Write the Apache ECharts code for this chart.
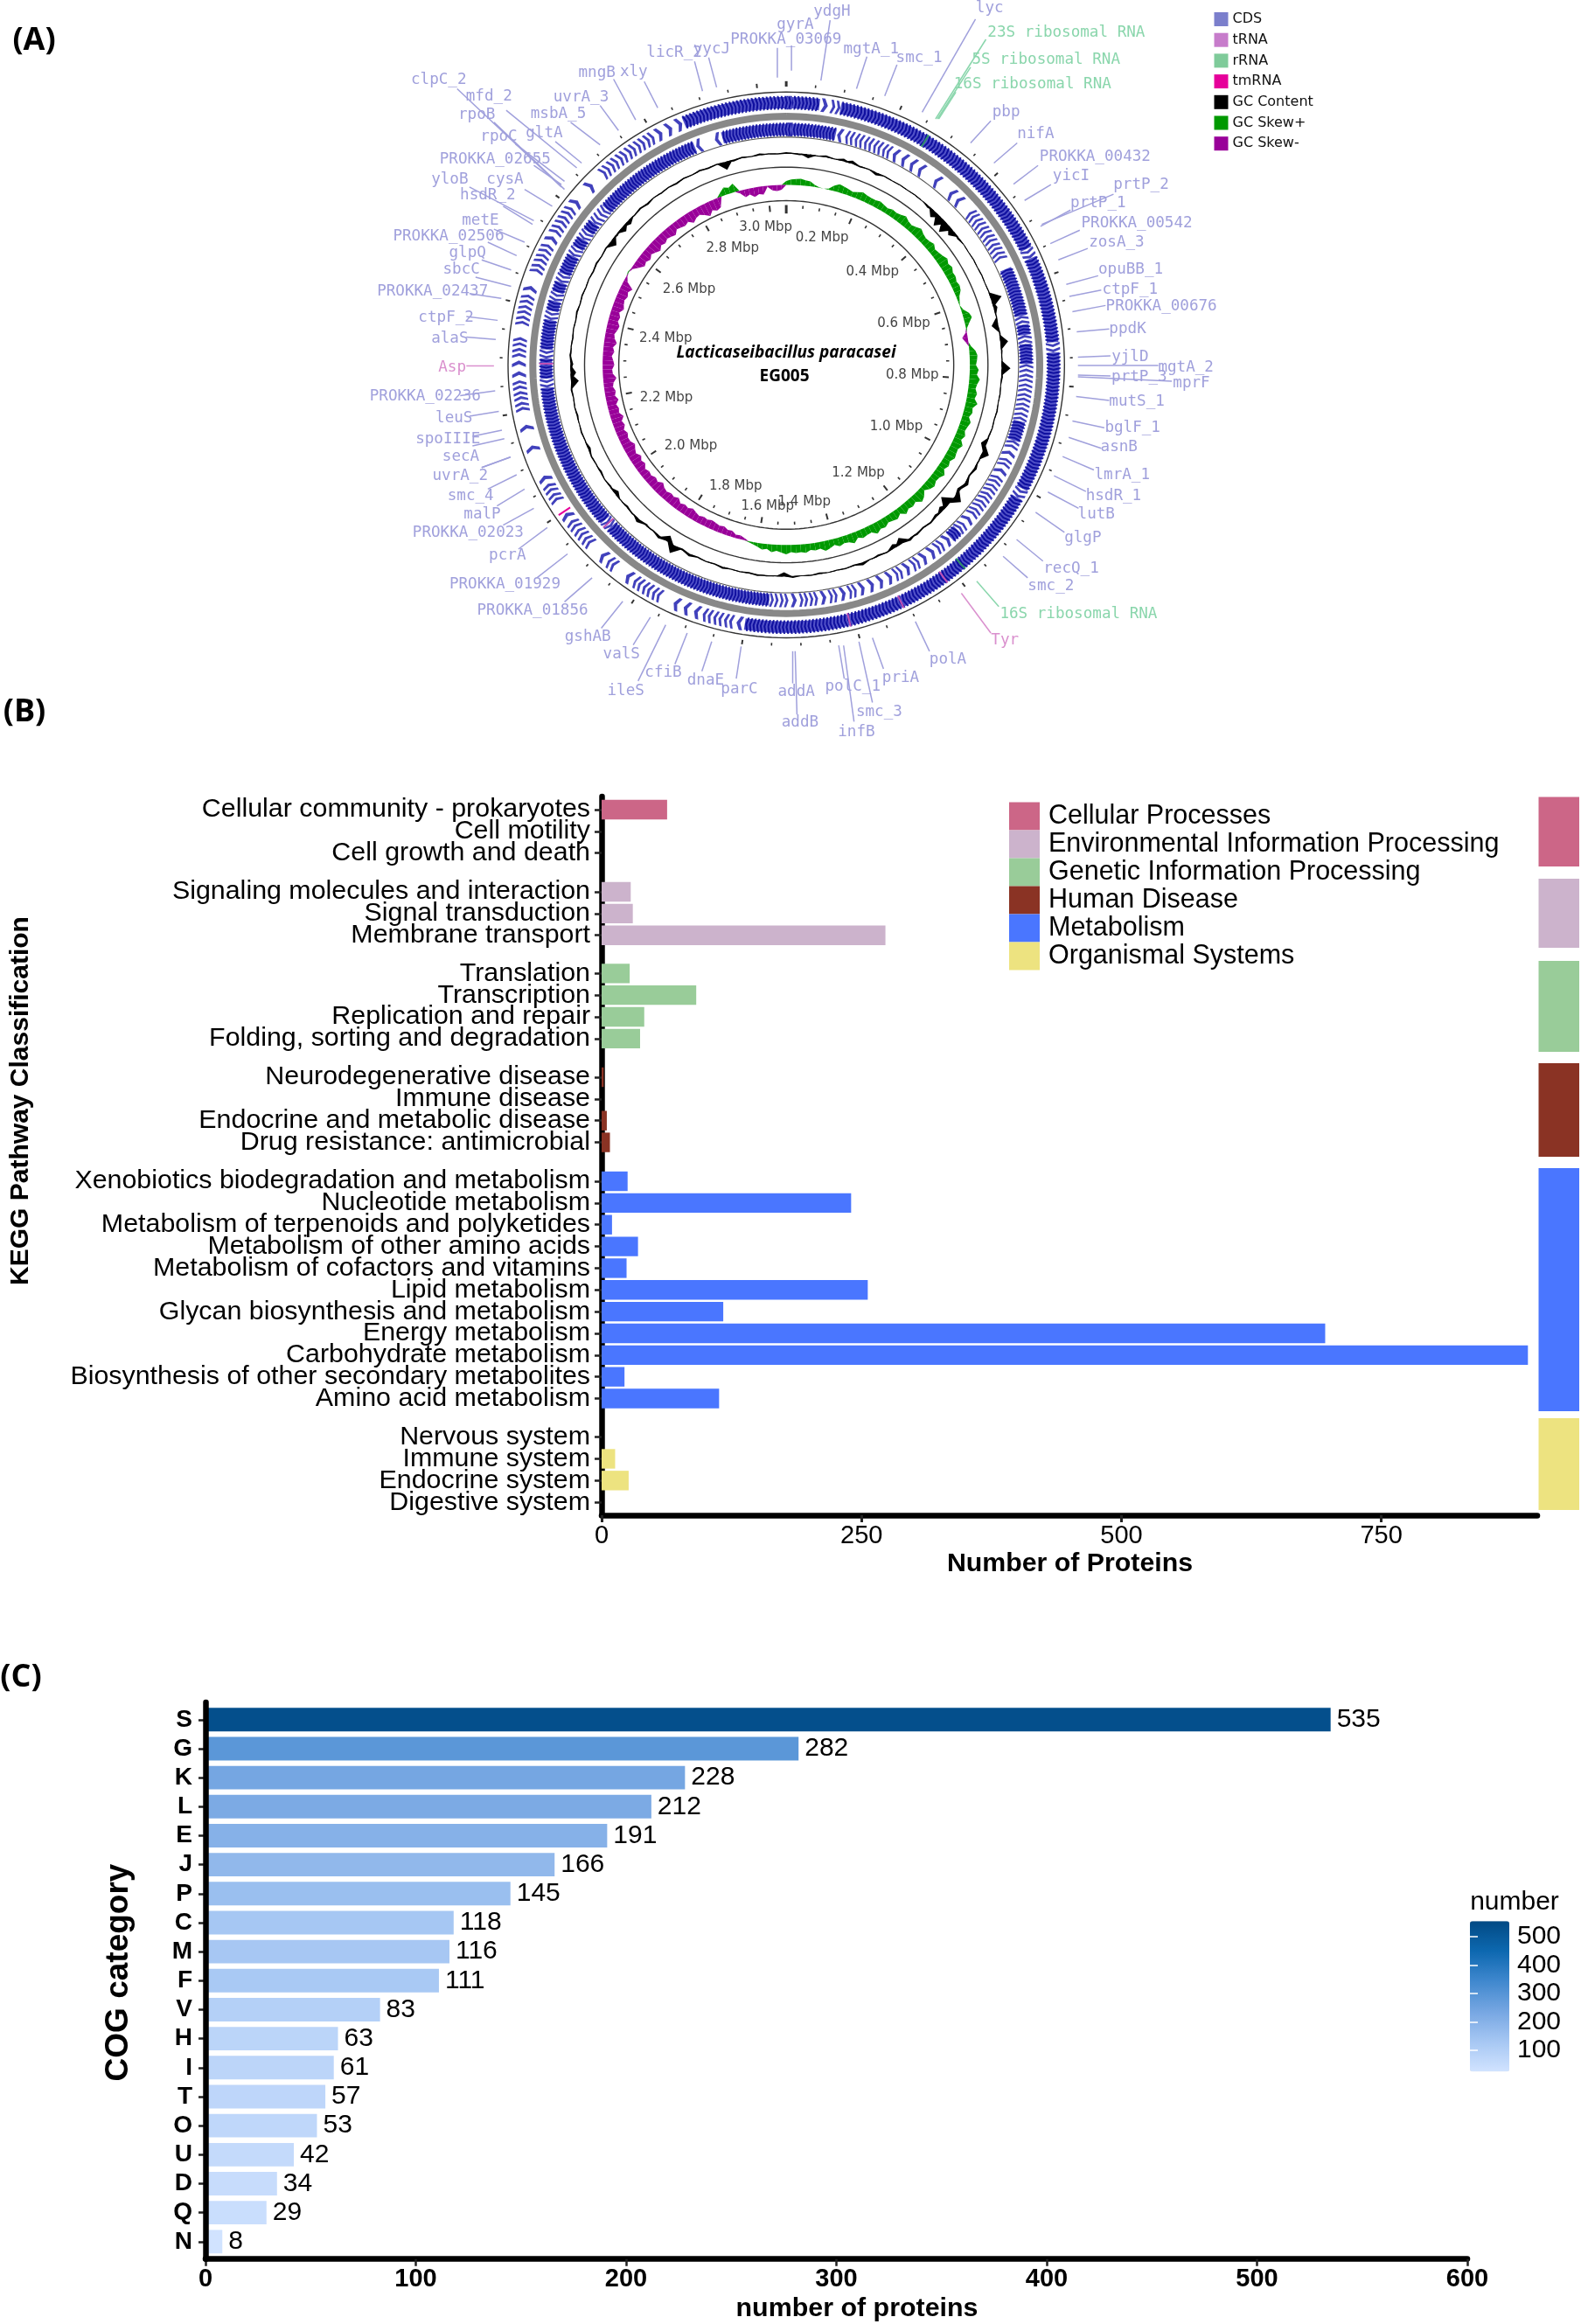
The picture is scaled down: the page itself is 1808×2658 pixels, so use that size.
<!DOCTYPE html>
<html><head><meta charset="utf-8">
<style>html,body{margin:0;padding:0;background:#fff}#c{width:1808px;height:2658px}</style>
<script src="https://cdn.jsdelivr.net/npm/echarts@6/dist/echarts.min.js"></script>
</head><body><div id="c"></div>
<script>
// ---------- Panel A data ----------
const genomeMbp = 3.05;
const mbpLabels = ['3.0 Mbp','0.2 Mbp','0.4 Mbp','0.6 Mbp','0.8 Mbp','1.0 Mbp','1.2 Mbp','1.4 Mbp','1.6 Mbp','1.8 Mbp','2.0 Mbp','2.2 Mbp','2.4 Mbp','2.6 Mbp','2.8 Mbp'];
const mbpLabelAt = [[678,475],[770,497],[852,568],[903,675],[917,783],[891,890],[829,987],[741,1046],[681,1055],[629,1014],[556,930],[516,830],[515,705],[553,604],[624,518]];
// genes on the outer annotation: name, label centre, leader end points (all read on the plot's own axes)
const cdsNames = ['ydgH','gyrA','PROKKA_03069','mgtA_1','smc_1','lyc','pbp','nifA','PROKKA_00432','yicI','prtP_2','prtP_1','PROKKA_00542','zosA_3','opuBB_1','ctpF_1','PROKKA_00676','ppdK','yjlD','mgtA_2','prtP_3','mprF','mutS_1','bglF_1','asnB','lmrA_1','hsdR_1','lutB','glgP','recQ_1','smc_2','polA','priA','polC_1','smc_3','infB','addA','addB','parC','dnaE','cfiB','ileS','valS','gshAB','PROKKA_01856','PROKKA_01929','pcrA','PROKKA_02023','malP','smc_4','uvrA_2','secA','spoIIIE','leuS','PROKKA_02236','alaS','ctpF_2','PROKKA_02437','sbcC','glpQ','PROKKA_02506','metE','hsdR_2','yloB','cysA','PROKKA_02655','rpoC','gltA','rpoB','mfd_2','clpC_2','msbA_5','uvrA_3','mngB','xly','licR_2','yycJ'];
const cdsLabelAt = [[786,24],[726,52],[711,83],[850,103],[928,122],[1043,18],[1070,234],[1118,280],[1215,328],[1176,367],[1290,385],[1220,423],[1283,465],[1250,505],[1273,562],[1272,605],[1323,638],[1268,687],[1272,745],[1363,766],[1287,787],[1372,800],[1283,837],[1276,893],[1254,932],[1259,991],[1245,1035],[1217,1072],[1195,1122],[1176,1185],[1143,1222],[975,1375],[898,1413],[820,1432],[863,1485],[826,1526],[728,1443],[734,1507],[635,1437],[580,1420],[511,1403],[450,1441],[443,1365],[388,1328],[298,1274],[253,1218],[257,1159],[193,1112],[216,1072],[197,1035],[180,993],[181,952],[160,916],[170,872],[123,827],[163,707],[157,662],[135,608],[182,563],[192,527],[161,493],[213,460],[225,407],[163,374],[253,374],[237,332],[243,285],[317,277],[207,240],[227,202],[145,167],[340,238],[377,203],[403,152],[463,150],[529,110],[590,103]];
const cdsLeaders = [[768,168,783,42],[720,147,720,95],[697,162,697,100],[826,185,843,118],[872,200,892,135],[933,234,1020,40],[1012,298,1045,252],[1050,340,1088,298],[1082,384,1122,345],[1100,418,1143,385],[1128,468,1245,405],[1126,472,1175,438],[1142,508,1190,480],[1155,542,1203,518],[1168,593,1220,575],[1173,618,1225,605],[1178,650,1232,637],[1185,692,1238,686],[1187,745,1240,742],[1187,762,1318,762],[1187,782,1240,784],[1187,786,1340,795],[1184,827,1238,835],[1178,878,1230,892],[1172,912,1225,935],[1162,952,1213,980],[1148,992,1200,1025],[1138,1026,1188,1060],[1118,1068,1165,1110],[1087,1125,1130,1170],[1065,1160,1105,1205],[922,1296,945,1358],[852,1330,870,1395],[797,1346,806,1415],[830,1338,852,1465],[805,1346,822,1505],[722,1358,722,1425],[726,1358,729,1490],[638,1348,630,1415],[590,1338,574,1400],[550,1320,530,1385],[515,1303,470,1420],[490,1287,462,1345],[445,1254,410,1310],[395,1205,350,1255],[355,1155,305,1205],[322,1100,275,1145],[300,1060,250,1095],[285,1020,240,1055],[272,990,225,1020],[262,953,215,975],[262,953,215,975],[248,897,200,910],[243,858,195,868],[237,815,180,825],[238,708,190,703],[241,668,190,660],[247,622,195,612],[263,597,205,578],[263,563,215,542],[272,533,225,505],[285,505,235,478],[298,468,250,430],[300,460,195,390],[330,430,285,395],[345,385,300,345],[350,378,270,300],[378,340,335,295],[350,395,235,255],[370,350,255,230],[345,390,175,185],[408,302,360,255],[438,272,408,220],[466,250,430,165],[502,225,480,170],[575,190,562,128],[598,182,585,120]];
const extraLeaders = [[252,915,200,930]];
const rrnaNames = ['23S ribosomal RNA','5S ribosomal RNA','16S ribosomal RNA','16S ribosomal RNA'];
const rrnaLabelAt = [[1168,68],[1135,124],[1113,176],[1188,1281]];
const rrnaLeaders = [[955,248,1037,82],[958,248,1012,140],[960,248,988,192],[1022,1212,1058,1265]];
const trnaNames = ['Tyr','Asp'];
const trnaLabelAt = [[1068,1335],[167,767]];
const trnaLeaders = [[997,1237,1045,1320],[235,763,190,763]];
// strand features: [position in Mbp, band 0 outer / 1 inner]
const trnaFeatures = [[1.22,0],[1.31,0],[1.41,0],[2.29,1],[1.93,1]];
const rrnaFeatures = [[0.265,0],[1.18,0]];
const tmrnaFeatures = [[2.0,0]];
// CDS occupancy per 0.02 Mbp window
const cdsOuter = [3,3,3,1,2,3,3,3,3,3, 3,3,3,3,3,3,3,3,3,3, 3,3,3,3,3,3,3,2,3,3, 3,3,3,3,3,3,2,3,3,3, 3,3,3,3,3,3,3,3,3,3, 2,3,3,3,3,3,3,3,3,3, 3,3,3,3,3,3,3,3,3,3, 3,3,3,3,3,3,3,3,3,3, 1,2,2,2,1,1,1,0,2,2, 2,1,0,2,1,0,2,2,2,1, 0,2,2,1,0,0,1,0,1,0, 2,2,2,1,1,2,2,0,2,2, 2,1,0,2,2,2,1,2,2,2, 1,0,1,0,2,2,2,2,2,2, 1,1,1,3,3,3,3,3,3,3, 3,3,3];
const cdsInner = [3,3,3,3,3,1,2,2,2,2, 2,1,1,1,1,0,1,0,1,1, 0,2,2,2,2,2,2,0,3,3, 3,3,3,2,3,2,3,3,2,2, 2,2,2,2,3,3,2,1,2,1, 2,2,2,2,2,1,2,3,1,2, 1,1,2,1,2,1,1,1,1,2, 1,2,1,2,2,1,2,2,3,3, 3,3,3,3,3,3,3,3,3,3, 3,3,3,3,3,3,2,3,3,3, 3,3,3,3,3,3,3,3,3,3, 3,3,2,3,3,2,3,3,3,2, 3,2,3,2,3,3,2,3,2,3, 2,2,3,3,3,3,3,3,3,3, 3,3,3,1,0,1,3,3,3,3, 3,3,3];
// GC content deviation per 0.02 Mbp window (thousandths of the plot radius)
const gcContent = [2,-4,-12,-2,5,-1,8,10,-3,2, -8,2,-1,2,-1,2,-1,-6,-24,-38, -40,-22,-5,1,-1,2,-1,2,-1,2, 38,12,2,-22,3,26,3,2,30,4, -1,2,-1,3,-2,2,-3,-18,24,3, 8,-4,12,-10,28,-36,-16,-8,4,-4, 5,8,-22,-14,3,-5,-2,8,-3,2, -2,1,-4,2,-1,5,-14,-2,2,4, -3,2,-1,5,-3,2,-3,8,-5,30, -22,8,-3,-5,12,3,-5,-2,-14,-4, 2,-5,-2,3,-8,-2,3,-1,-4,2, -2,4,-26,-18,-8,4,2,-3,2,-2, 4,-2,3,-2,2,-3,4,-2,3,-22, -5,-18,-14,-3,4,-5,2,-3,2,-4, 3,-2,4,-3,2,-28,-5,3,-2,5, 2,-2,4];
// GC skew per 0.0125 Mbp window (thousandths of the plot radius; + outward, - inward)
const gcSkew = [
14,20,22,24,20,18,8,2,0,4,20,30,26,22,18,24,30,26,24,24,28,24,20,26,24,28,34,26,22,28,36,28,24,26,32,22,26,30,38,30,
36,28,30,24,28,24,12,6,1,8,24,30,16,4,-5,-20,-10,8,22,28,26,22,32,26,38,30,26,34,28,42,28,32,24,36,30,26,34,26,40,30,
32,36,26,32,24,38,28,26,34,28,16,32,40,24,30,26,36,22,32,28,24,34,30,40,26,28,32,24,38,28,26,32,22,30,36,24,28,24,32,28,
30,26,34,28,22,28,18,22,14,8,3,-8,-14,-12,-22,-20,-28,-24,-28,-32,-26,-30,-24,-30,-36,-28,-32,-26,-38,-30,-34,-28,-32,-42,-30,-36,-28,-32,-26,-38,
-32,-42,-30,-36,-44,-34,-32,-38,-30,-40,-34,-46,-34,-38,-32,-44,-34,-40,-32,-36,-48,-36,-34,-42,-38,-32,-40,-34,-46,-36,-32,-40,-44,-34,-38,-30,-42,-36,-32,-38,
-32,-42,-14,-4,4,-6,-22,-36,-30,-38,-28,-36,-44,-32,-38,-30,-34,-40,-26,-30,-34,-28,-42,-32,-28,-38,-50,-34,-42,-36,14,28,22,32,-10,-28,-22,-34,-26,-30,
-4,-18,-22,-18];

// ---------- Panel B data ----------
const groupNames = ['Cellular Processes','Environmental Information Processing','Genetic Information Processing','Human Disease','Metabolism','Organismal Systems'];
const groupColors = ['#CC6687','#CCB3CC','#99CC99','#8A3324','#4A76FF','#EDE380'];
const cellularNames = ['Cellular community - prokaryotes','Cell motility','Cell growth and death'];
const cellularValues = [63,0,0];
const environmentalNames = ['Signaling molecules and interaction','Signal transduction','Membrane transport'];
const environmentalValues = [28,30,273];
const geneticNames = ['Translation','Transcription','Replication and repair','Folding, sorting and degradation'];
const geneticValues = [27,91,41,37];
const diseaseNames = ['Neurodegenerative disease','Immune disease','Endocrine and metabolic disease','Drug resistance: antimicrobial'];
const diseaseValues = [2,0,5,8];
const metabolismNames = ['Xenobiotics biodegradation and metabolism','Nucleotide metabolism','Metabolism of terpenoids and polyketides','Metabolism of other amino acids','Metabolism of cofactors and vitamins','Lipid metabolism','Glycan biosynthesis and metabolism','Energy metabolism','Carbohydrate metabolism','Biosynthesis of other secondary metabolites','Amino acid metabolism'];
const metabolismValues = [25,240,10,35,24,256,117,696,891,22,113];
const organismalNames = ['Nervous system','Immune system','Endocrine system','Digestive system'];
const organismalValues = [0,13,26,0];
const keggTicks = [0,250,500,750];

// ---------- Panel C data ----------
const cogCategories = ['S','G','K','L','E','J','P','C','M','F','V','H','I','T','O','U','D','Q','N'];
const cogValues = [535,282,228,212,191,166,145,118,116,111,83,63,61,57,53,42,34,29,8];
const colorbarTicks = [100,200,300,400,500];

// ---------- layout ----------
const SANS = '"Liberation Sans", Arial, sans-serif';
const CX=711.5, CY=761, RX=453.5, RY=569;
const A_GRID = {left:400, top:0, width:1100, height:860};
const facetTop = [913.6,1007.6,1100.9,1219.6,1338.6,1631.2];
const rowH = 24.85;
const stripBoxes = [[911.5,991],[1005,1084],[1099,1203],[1216,1323],[1336,1614],[1622,1727]];

function pos(api,r,mbp){const t=mbp/genomeMbp*2*Math.PI;return api.coord([CX+RX*r*Math.sin(t),CY-RY*r*Math.cos(t)]);}

const grids=[],xAxes=[],yAxes=[],series=[];
function addGrid(g,x,y){g.outerBoundsMode='none';grids.push(g);x.gridIndex=grids.length-1;y.gridIndex=grids.length-1;xAxes.push(x);yAxes.push(y);return grids.length-1;}

// Panel A
const AI = addGrid(A_GRID,{type:'value',min:0,max:1568,show:false},{type:'value',min:0,max:1568,inverse:true,show:false});
function customA(name,color,data,renderItem,z){
  series.push({name,type:'custom',coordinateSystem:'cartesian2d',xAxisIndex:AI,yAxisIndex:AI,silent:true,animation:false,itemStyle:{color},data,renderItem,z:z||2,encode:{x:0,y:0}});
}
// reference circles + grey ring
const ringRadii=[[1,1.4,'#333'],[0.835,1.1,'#555'],[0.725,1.4,'#333'],[0.602,1.4,'#333'],[0.911,8,'#888']];
customA('rings','#333',ringRadii.map((r,i)=>[i]),(p,api)=>{
  const [r,w,c]=ringRadii[api.value(0)];const pts=[];
  for(let k=0;k<=240;k++)pts.push(pos(api,r,genomeMbp*k/240));
  return {type:'polyline',shape:{points:pts},style:{stroke:c,lineWidth:w,fill:null}};
},1);
// tick rings
const tickCount=Math.round(genomeMbp/0.05);
customA('ticks','#333',Array.from({length:tickCount},(_,i)=>[i]),(p,api)=>{
  const i=api.value(0),m=i*0.05,major=i%4===0,top=i===0;
  const seg=(a,b,w)=>({type:'line',shape:{x1:pos(api,a,m)[0],y1:pos(api,a,m)[1],x2:pos(api,b,m)[0],y2:pos(api,b,m)[1]},style:{stroke:'#333',lineWidth:w}});
  return {type:'group',children:[
    seg(1.02,major?(top?1.04:1.036):1.03,top?3:(major?2:1.6)),
    seg(0.586,major?(top?0.555:0.564):0.575,top?3:(major?2:1.6))]};
},1);
// CDS arrows
const CDS_BANDS=[[0.936,0.986,1],[0.838,0.888,-1]];
const cdsData=cdsOuter.map((d,i)=>[i,d,0]).concat(cdsInner.map((d,i)=>[i,d,1]));
customA('CDS','#7B7FCC',cdsData,(p,api)=>{
  const i=api.value(0),d=api.value(1),band=CDS_BANDS[api.value(2)];
  if(!d)return {type:'group',children:[]};
  const bin=0.02,w=d===1?0.013:(d===2?0.0095:bin/3),r1=band[0],r2=band[1],rm=(r1+r2)/2,dir=band[2],kids=[];
  if(d===3){
    const a=i*bin-0.0006,b=(i+1)*bin+0.0006,c=(a+b)/2;
    kids.push({type:'polygon',shape:{points:[pos(api,r1+0.004,a),pos(api,r1+0.004,c),pos(api,r1+0.004,b),pos(api,r2-0.004,b),pos(api,r2-0.004,c),pos(api,r2-0.004,a)]},style:{fill:'#5252C8'}});
  }
  const span=d*w,start=i*bin+(bin-span)/2;
  for(let k=0;k<d;k++){
    const a0=start+k*w,a1=a0+w*0.96;
    const tail=dir>0?a0:a1,tip=dir>0?a1:a0,neck=tip-dir*w*0.5,notch=tail+dir*w*0.42;
    kids.push({type:'polygon',shape:{points:[pos(api,r1,tail),pos(api,r1,neck),pos(api,rm,tip),pos(api,r2,neck),pos(api,r2,tail),pos(api,rm,notch)]},
      style:{fill:d===3?'#08089A':'#2020B0',opacity:d===3?0.9:0.85}});
  }
  return {type:'group',children:kids};
},3);
// strand features
function featureRender(arr,color){return (p,api)=>{
  const f=arr[api.value(0)],b=CDS_BANDS[f[1]];
  const a=pos(api,b[0],f[0]),c=pos(api,b[1],f[0]);
  return {type:'line',shape:{x1:a[0],y1:a[1],x2:c[0],y2:c[1]},style:{stroke:color,lineWidth:2}};
};}
customA('tRNA','#C77CCB',trnaFeatures.map((_,i)=>[i]),featureRender(trnaFeatures,'#C050B4'),4);
customA('rRNA','#7FCB9A',rrnaFeatures.map((_,i)=>[i]),featureRender(rrnaFeatures,'#2F8F6A'),4);
customA('tmRNA','#E6009A',tmrnaFeatures.map((_,i)=>[i]),featureRender(tmrnaFeatures,'#E6009A'),4);
// GC content: thin base line with a peak per window; wide peaks run together into blobs
const GC_BASE=0.775,gcStep=0.02;
customA('GC Content','#000000',gcContent.map((_,i)=>[i]),(p,api)=>{
  const i=api.value(0),v=gcContent[i]/1000;
  const mc=(i+0.5)*gcStep,h=gcStep*0.85,m0=mc-h,m1=mc+h,t=0.0012;
  return {type:'polygon',shape:{points:[pos(api,GC_BASE+t,m0),pos(api,GC_BASE+Math.max(v,0)+t,mc),pos(api,GC_BASE+t,m1),pos(api,GC_BASE-t,m1),pos(api,GC_BASE+Math.min(v,0)-t,mc),pos(api,GC_BASE-t,m0)]},style:{fill:'#000'}};
},3);
// GC skew
const SK_BASE=0.66,skStep=genomeMbp/gcSkew.length;
function skewRender(sign,color){return (p,api)=>{
  const i=api.value(0),v0=Math.max(sign*gcSkew[i],0)/1000,v1=Math.max(sign*gcSkew[(i+1)%gcSkew.length],0)/1000;
  const m0=i*skStep,m1=(i+1)*skStep;
  return {type:'polygon',shape:{points:[pos(api,SK_BASE,m0),pos(api,SK_BASE+sign*v0,m0),pos(api,SK_BASE+sign*v1,m1),pos(api,SK_BASE,m1)]},style:{fill:color}};
};}
customA('GC Skew+','#009900',gcSkew.map((_,i)=>[i]),skewRender(1,'#009900'),3);
customA('GC Skew-','#990099',gcSkew.map((_,i)=>[i]),skewRender(-1,'#990099'),3);
// gene labels
function geneSeries(tag,names,at,leaders,color){
  customA(tag,color,names.map((_,i)=>[i]),(p,api)=>{
    const i=api.value(0),l=leaders[i],a=api.coord([l[0],l[1]]),b=api.coord([l[2],l[3]]),t=api.coord(at[i]);
    return {type:'group',children:[
      {type:'line',shape:{x1:a[0],y1:a[1],x2:b[0],y2:b[1]},style:{stroke:color,lineWidth:1.5}},
      {type:'text',style:{text:names[i],x:t[0],y:t[1],align:'center',verticalAlign:'middle',fill:color,font:'17.6px "DejaVu Sans Mono", monospace'}}]};
  },5);
}
geneSeries('cdsGenes',cdsNames,cdsLabelAt,cdsLeaders,'#A0A0DC');
geneSeries('rrnaGenes',rrnaNames,rrnaLabelAt,rrnaLeaders,'#8AD6AC');
geneSeries('trnaGenes',trnaNames,trnaLabelAt,trnaLeaders,'#DA90CE');
customA('extraLeader','#A0A0DC',extraLeaders.map((_,i)=>[i]),(p,api)=>{
  const l=extraLeaders[api.value(0)],a=api.coord([l[0],l[1]]),b=api.coord([l[2],l[3]]);
  return {type:'line',shape:{x1:a[0],y1:a[1],x2:b[0],y2:b[1]},style:{stroke:'#A0A0DC',lineWidth:1.5}};
},5);
customA('mbpLabels','#444',mbpLabels.map((_,i)=>[i]),(p,api)=>{
  const i=api.value(0),t=api.coord(mbpLabelAt[i]);
  return {type:'text',style:{text:mbpLabels[i],x:t[0],y:t[1],align:'center',verticalAlign:'middle',fill:'#444',font:'15px "DejaVu Sans", sans-serif'}};
},5);

// Panel B
const axisText={color:'#000',fontFamily:SANS};
const B_LEFT=688,B_WIDTH=1070;
addGrid({left:B_LEFT,top:911,width:B_WIDTH,height:822},
  {type:'value',min:0,max:900,splitLine:{show:false},
   axisLine:{show:true,lineStyle:{color:'#000',width:6.5}},
   axisLabel:{...axisText,fontSize:29,margin:9,customValues:keggTicks},
   axisTick:{show:true,length:8,lineStyle:{color:'#222',width:3},customValues:keggTicks}},
  {type:'value',min:0,max:1,show:true,splitLine:{show:false},axisLine:{show:true,lineStyle:{color:'#000',width:6.5}},axisTick:{show:false},axisLabel:{show:false}});
const facetNames=[cellularNames,environmentalNames,geneticNames,diseaseNames,metabolismNames,organismalNames];
const facetValues=[cellularValues,environmentalValues,geneticValues,diseaseValues,metabolismValues,organismalValues];
facetNames.forEach((names,f)=>{
  const gi=addGrid({left:B_LEFT,top:facetTop[f],width:B_WIDTH,height:names.length*rowH},
    {type:'value',min:0,max:900,show:false},
    {type:'category',inverse:true,data:names,axisLine:{show:false},axisTick:{show:true,length:8,alignWithLabel:true,lineStyle:{color:'#222',width:2.5}},
     axisLabel:{...axisText,fontSize:30.4,margin:13,interval:0}});
  series.push({name:groupNames[f],type:'bar',xAxisIndex:gi,yAxisIndex:gi,data:facetValues[f],barWidth:'90%',itemStyle:{color:groupColors[f]},z:1,animation:false,silent:true});
});

// Panel C
const C_LEFT=235,C_WIDTH=1443;
addGrid({left:C_LEFT,top:1947,width:C_WIDTH,height:636.7},
  {type:'value',min:0,max:600,interval:100,splitLine:{show:false},
   axisLine:{show:true,lineStyle:{color:'#000',width:6.5}},axisTick:{show:true,length:8,lineStyle:{color:'#222',width:2.5}},
   axisLabel:{...axisText,fontSize:29,fontWeight:'bold',margin:9}},
  {type:'value',min:0,max:1,splitLine:{show:false},axisLine:{show:true,lineStyle:{color:'#000',width:6.5}},axisTick:{show:false},axisLabel:{show:false},z:5});
const cogGrid=addGrid({left:C_LEFT,top:1950.2,width:C_WIDTH,height:630.2},
  {type:'value',min:0,max:600,show:false},
  {type:'category',inverse:true,data:cogCategories,axisLine:{show:false},axisTick:{show:true,length:8,alignWithLabel:true,lineStyle:{color:'#222',width:2.5}},
   axisLabel:{...axisText,fontSize:28,fontWeight:'bold',margin:15,interval:0,padding:[0,0,6,0]}});
const cogSeriesIndex=series.length;
series.push({name:'COG',type:'bar',xAxisIndex:cogGrid,yAxisIndex:cogGrid,data:cogValues.map((v,i)=>[v,cogCategories[i]]),encode:{x:0,y:1},barWidth:'81%',z:1,animation:false,silent:true,
  label:{show:true,position:'right',distance:7,color:'#000',fontFamily:SANS,fontSize:30,formatter:p=>String(p.value[0])}});
// colourbar axis
const cbGrid=grids.length;
grids.push({left:1681,top:2197.3,width:45,height:172,outerBoundsMode:'none'});
xAxes.push({type:'value',gridIndex:cbGrid,min:0,max:1,show:false});
const cbAxis=(side,labels)=>({type:'value',gridIndex:cbGrid,position:side,min:25,max:555,z:6,splitLine:{show:false},axisLine:{show:false},
  axisTick:{show:true,inside:true,length:9,lineStyle:{color:'#fff',width:1.5},customValues:colorbarTicks},
  axisLabel:labels?{...axisText,fontSize:30,margin:9,customValues:colorbarTicks}:{show:false}});
yAxes.push(cbAxis('right',true));
yAxes.push(cbAxis('left',false));

const txt=(t,x,y,size,weight,extra)=>({type:'text',x,y,silent:true,style:Object.assign({text:t,fill:'#000',font:`${weight} ${size}px ${extra&&extra.family||SANS}`,textAlign:'center',textVerticalAlign:'middle'},extra&&extra.style),rotation:extra&&extra.rotation||0});
const OS='"Open Sans", sans-serif';
const graphics=[
  txt('(A)',39,47,36,'bold',{family:OS}),
  txt('(B)',28,815,36,'bold',{family:OS}),
  txt('(C)',24,1919,36,'bold',{family:OS}),
  txt('KEGG Pathway Classification',24,1259,30,'bold',{rotation:Math.PI/2}),
  txt('Number of Proteins',1223.5,1789,30.3,'bold'),
  txt('COG category',136,2256,37,'bold',{rotation:Math.PI/2}),
  txt('number of proteins',980,2641,30.4,'bold'),
  txt('number',1732,2176,30,'normal'),
  {type:'text',x:899,y:404,silent:true,style:{text:'Lacticaseibacillus paracasei',fill:'#000',font:`italic bold 19px ${OS}`,textAlign:'center',textVerticalAlign:'middle'}},
  txt('EG005',897,431,19,'bold',{family:OS})
].concat(stripBoxes.map((b,i)=>({type:'rect',silent:true,shape:{x:1759.5,y:b[0],width:46.5,height:b[1]-b[0]},style:{fill:groupColors[i]}})));

const chart=echarts.init(document.getElementById('c'),null,{renderer:'canvas'});
chart.setOption({
  backgroundColor:'#fff',animation:false,
  grid:grids,xAxis:xAxes,yAxis:yAxes,series,
  legend:[
    {data:groupNames,orient:'vertical',left:1154,top:917.5,padding:0,itemWidth:35,itemHeight:32,itemGap:0,icon:'rect',selectedMode:false,itemStyle:{borderWidth:0},
     textStyle:{color:'#000',fontFamily:SANS,fontSize:30.5,lineHeight:32,height:32,padding:[0,0,0,5]}},
    {data:['CDS','tRNA','rRNA','tmRNA','GC Content','GC Skew+','GC Skew-'],orient:'vertical',left:1388.5,top:14,padding:0,itemWidth:16,itemHeight:16,itemGap:7.7,icon:'rect',selectedMode:false,
     textStyle:{color:'#111',fontFamily:'"DejaVu Sans", sans-serif',fontSize:16,lineHeight:16}}
  ],
  visualMap:{type:'continuous',seriesIndex:cogSeriesIndex,dimension:0,min:8,max:555,calculable:false,realtime:false,left:1681,top:2197.3,itemWidth:45,itemHeight:172,padding:0,text:null,hoverLink:false,
    inRange:{color:['#D1E3FF','#A6C7F3','#76A6E2','#4088CE','#0D68B0','#024A84']}},
  graphic:{elements:graphics},
  tooltip:{show:false}
});
</script></body></html>
